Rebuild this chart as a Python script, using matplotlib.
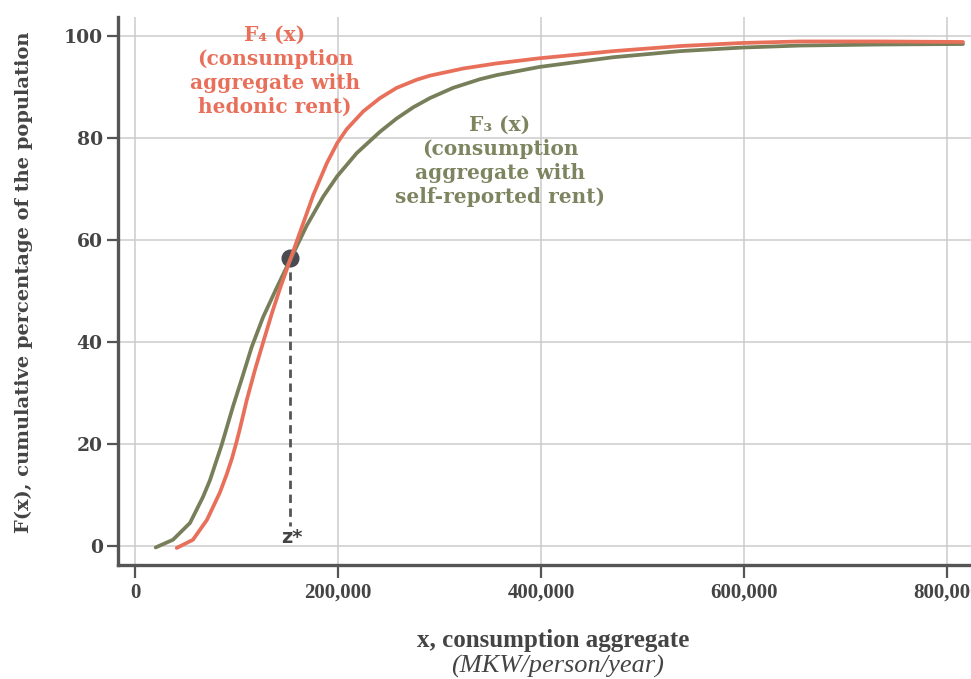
import matplotlib
matplotlib.use("Agg")
import matplotlib.pyplot as plt

# values
f3_x = [20400, 37400, 54200, 67000, 73900, 85400, 96500, 106400, 115000, 126100,
        139600, 152700, 169200, 185500, 199300, 218400, 241400, 257800, 274200,
        290600, 313300, 339900, 356300, 398300, 470900, 536900, 597700, 655200,
        734000, 815700]
f3_y = [-0.3, 1.2, 4.5, 9.6, 12.9, 19.8, 27.3, 33.5, 39.0, 44.8,
        50.6, 56.0, 62.8, 68.5, 72.5, 77.0, 81.2, 83.8, 86.0,
        87.8, 89.8, 91.5, 92.3, 93.9, 95.8, 97.0, 97.7, 98.1,
        98.3, 98.4]

f4_x = [41100, 57100, 70900, 83700, 90300, 95600, 100200, 103400, 110000, 118200,
        126400, 134700, 142900, 152700, 162600, 175700, 188900, 199300, 208600,
        224900, 241400, 257800, 277500, 290600, 323400, 356300, 398300, 470900,
        536900, 597700, 655200, 734000, 815700]
f4_y = [-0.4, 1.2, 5.1, 10.5, 14.0, 17.2, 20.5, 23.0, 28.5, 34.5,
        40.0, 45.5, 50.5, 56.0, 61.5, 68.8, 75.0, 79.0, 81.7,
        85.2, 87.8, 89.8, 91.4, 92.2, 93.6, 94.6, 95.6, 97.0,
        98.0, 98.6, 98.9, 98.9, 98.8]

z_star_x = 152700
z_star_y = 56.5

x_ticks = [0, 200000, 400000, 600000, 800000]
y_ticks = [0, 20, 40, 60, 80, 100]

COL_F4 = '#e8705a'
COL_F3 = '#777f5a'
COL_AX = '#555555'

fig = plt.figure(figsize=(9.71, 6.79), dpi=100)
ax = fig.add_axes([0.1215, 0.168, 0.8785, 0.807])

ax.grid(True, color='#cccccc', lw=1.1, zorder=0)
ax.set_axisbelow(True)

ax.plot(f3_x, f3_y, color=COL_F3, lw=2.7, solid_capstyle='round',
        solid_joinstyle='round', zorder=3)
ax.plot(f4_x, f4_y, color=COL_F4, lw=2.7, solid_capstyle='round',
        solid_joinstyle='round', zorder=3)

# z* marker and drop line
ax.plot([z_star_x, z_star_x], [z_star_y, 4.0], color=COL_AX, lw=2,
        dashes=(3, 2), zorder=2)
ax.plot([z_star_x], [z_star_y], 'o', color='#4a4b50', ms=12, zorder=2)
ax.text(z_star_x + 1500, 1.6, 'z*', ha='center', va='center', fontsize=14,
        fontweight='bold', color='#444444', family='DejaVu Sans')

# curve labels
ax.text(138000, 93.1, 'F₄ (x)\n(consumption\naggregate with\nhedonic rent)',
        ha='center', va='center', fontsize=14.5, fontweight='bold',
        color=COL_F4, family='DejaVu Serif', linespacing=1.25, zorder=1)
ax.text(359600, 75.5, 'F₃ (x)\n(consumption\naggregate with\nself-reported rent)',
        ha='center', va='center', fontsize=14.5, fontweight='bold',
        color='#7d8460', family='DejaVu Serif', linespacing=1.25, zorder=1)

ax.set_xlim(-16750, 823600)
ax.set_ylim(-3.73, 103.7)
ax.set_xticks(x_ticks)
ax.set_xticklabels([f'{v:,}' for v in x_ticks], family='Liberation Serif',
                   fontweight='bold', fontsize=15, color='#444444')
ax.set_yticks(y_ticks)
ax.set_yticklabels([str(v) for v in y_ticks], family='DejaVu Serif',
                   fontweight='bold', fontsize=13.5, color='#444444')

for side in ['top', 'right']:
    ax.spines[side].set_visible(False)
for side in ['left', 'bottom']:
    ax.spines[side].set_color(COL_AX)
    ax.spines[side].set_linewidth(2.4)
ax.tick_params(axis='x', length=9, width=1.6, color=COL_AX, pad=4)
ax.tick_params(axis='y', length=8, width=1.6, color=COL_AX, pad=3)

fig.text(0.025, 0.585, 'F(x), cumulative percentage of the population',
         rotation=90, ha='center', va='center', fontsize=14,
         fontweight='bold', color='#444444', family='DejaVu Serif')
fig.text(0.57, 1 - 640 / 679, 'x, consumption aggregate', ha='center',
         va='center', fontsize=18, fontweight='bold', color='#444444',
         family='Liberation Serif')
fig.text(0.574, 1 - 666 / 679, '(MKW/person/year)', ha='center', va='center',
         fontsize=19, style='italic', color='#444444', family='Liberation Serif')

fig.savefig('out.png', dpi=100)
